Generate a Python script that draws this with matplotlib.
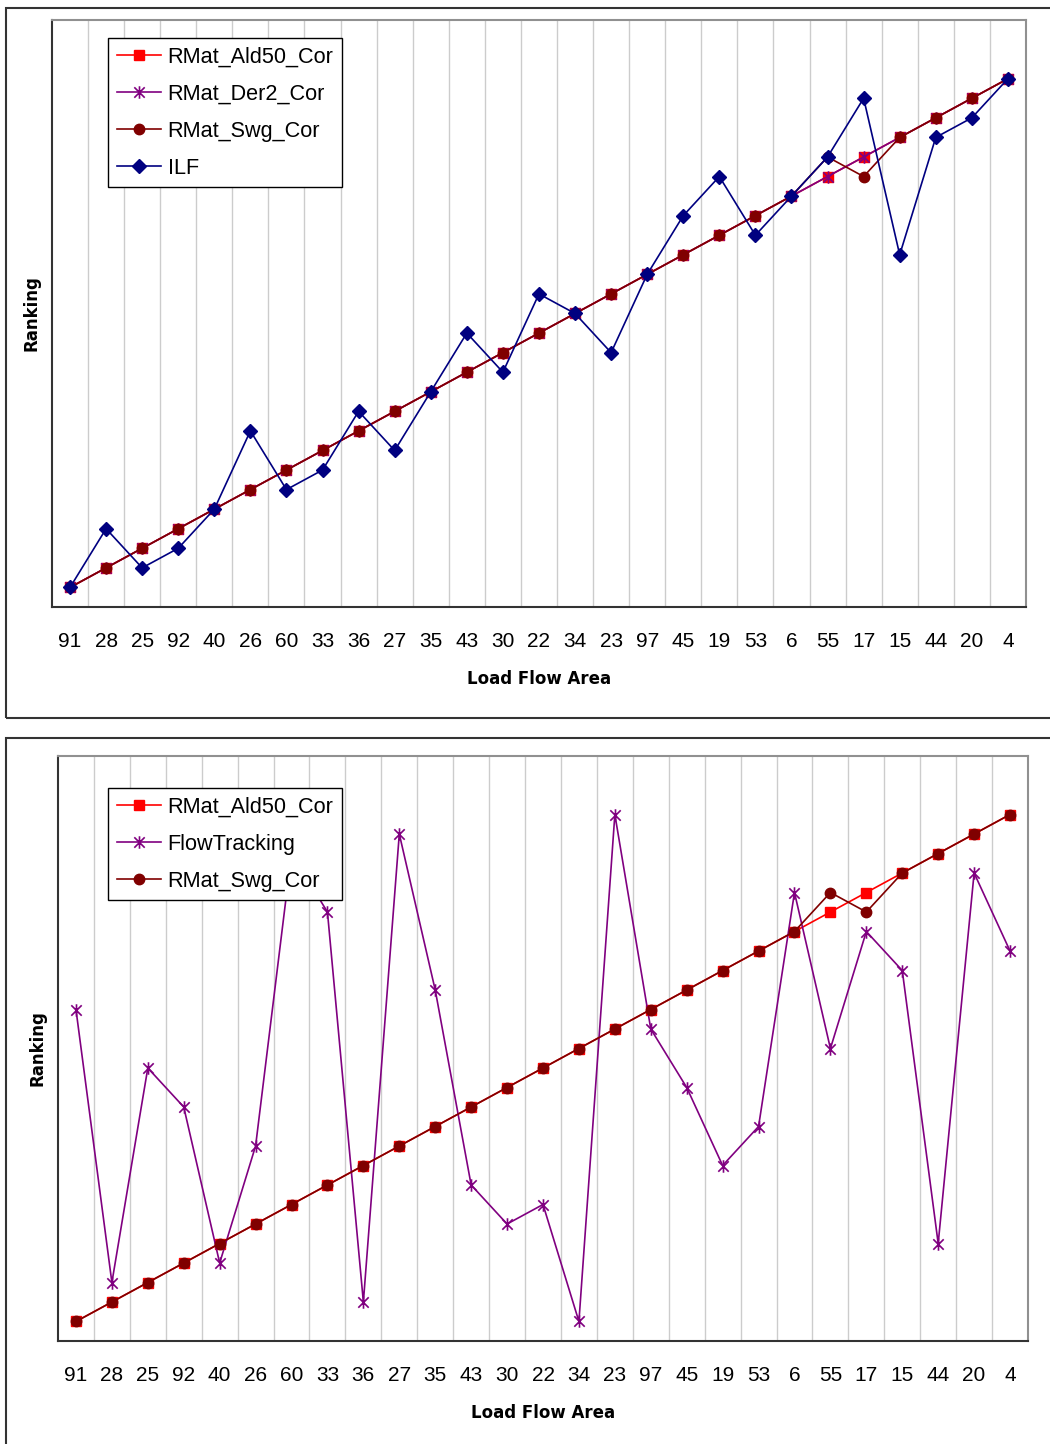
import matplotlib
matplotlib.use('Agg')
import matplotlib.pyplot as plt
from matplotlib.path import Path
from matplotlib.patches import Rectangle

plt.rcParams['font.family'] = ['Liberation Sans', 'DejaVu Sans']

areas = ['91', '28', '25', '92', '40', '26', '60', '33', '36', '27', '35', '43', '30', '22',
         '34', '23', '97', '45', '19', '53', '6', '55', '17', '15', '44', '20', '4']

# top chart
ald50_top = [1, 2, 3, 4, 5, 6, 7, 8, 9, 10, 11, 12, 13, 14, 15, 16, 17, 18, 19, 20, 21, 22, 23, 24, 25, 26, 27]
der2_top = [1, 2, 3, 4, 5, 6, 7, 8, 9, 10, 11, 12, 13, 14, 15, 16, 17, 18, 19, 20, 21, 22, 23, 24, 25, 26, 27]
swg_top = [1, 2, 3, 4, 5, 6, 7, 8, 9, 10, 11, 12, 13, 14, 15, 16, 17, 18, 19, 20, 21, 23, 22, 24, 25, 26, 27]
ilf = [1, 4, 2, 3, 5, 9, 6, 7, 10, 8, 11, 14, 12, 16, 15, 13, 17, 20, 22, 19, 21, 23, 26, 18, 24, 25, 27]

# bottom chart
ald50_bot = [1, 2, 3, 4, 5, 6, 7, 8, 9, 10, 11, 12, 13, 14, 15, 16, 17, 18, 19, 20, 21, 22, 23, 24, 25, 26, 27]
flow = [17, 3, 14, 12, 4, 10, 25, 22, 2, 26, 18, 8, 6, 7, 1, 27, 16, 13, 9, 11, 23, 15, 21, 19, 5, 24, 20]
swg_bot = [1, 2, 3, 4, 5, 6, 7, 8, 9, 10, 11, 12, 13, 14, 15, 16, 17, 18, 19, 20, 21, 23, 22, 24, 25, 26, 27]

# excel style star: an x with a vertical bar
star = Path([(-1, -1), (1, 1), (-1, 1), (1, -1), (0, -1.2), (0, 1.2)],
            [Path.MOVETO, Path.LINETO, Path.MOVETO, Path.LINETO, Path.MOVETO, Path.LINETO])

RED = '#ff0000'
PURPLE = '#800080'
DRED = '#800000'
NAVY = '#000080'

fig = plt.figure(figsize=(10.5, 14.44), dpi=100)

# outer frames around each chart
fig.add_artist(Rectangle((0.0057, 0.50277), 1.0, 0.49169, transform=fig.transFigure,
                         fill=False, edgecolor='#333333', linewidth=1.5))
fig.add_artist(Rectangle((0.0057, -0.01), 1.0, 0.49892, transform=fig.transFigure,
                         fill=False, edgecolor='#333333', linewidth=1.5))

ax1 = fig.add_axes([0.0495, 0.57964, 0.9276, 0.40651])
ax2 = fig.add_axes([0.05524, 0.07133, 0.92381, 0.40512])

x = list(range(1, len(areas) + 1))
label_font = dict(family='DejaVu Sans', fontsize=12, fontweight='bold')


def style(ax):
    ax.set_xlim(0.5, len(areas) + 0.5)
    ax.set_ylim(0, 30)
    ax.set_xticks(x)
    ax.set_xticklabels(areas, fontsize=15)
    ax.set_xticks([i + 0.5 for i in range(1, len(areas))], minor=True)
    ax.tick_params(axis='x', which='both', length=0, pad=18)
    ax.set_yticks([])
    ax.grid(True, which='minor', axis='x', color='#cccccc', linewidth=1.0)
    ax.set_axisbelow(True)
    for side in ['left', 'bottom']:
        ax.spines[side].set_color('#333333')
        ax.spines[side].set_linewidth(1.5)
    for side in ['top', 'right']:
        ax.spines[side].set_color('#909090')
        ax.spines[side].set_linewidth(1.5)
    ax.set_xlabel('Load Flow Area', labelpad=14, **label_font)
    ax.set_ylabel('Ranking', labelpad=8, **label_font)


def legend(ax, anchor):
    leg = ax.legend(loc='upper left', bbox_to_anchor=anchor, borderaxespad=0,
                    fontsize=15.6, fancybox=False, framealpha=1, edgecolor='black',
                    handlelength=2.05, handletextpad=0.3, labelspacing=0.74, borderpad=0.4)
    leg.get_frame().set_linewidth(1.0)


lw = 1.2
ax1.plot(x, ald50_top, color=RED, lw=lw, marker='s', ms=7.5, mec=RED, mfc=RED, label='RMat_Ald50_Cor')
ax1.plot(x, der2_top, color=PURPLE, lw=lw, marker=star, ms=9, mec=PURPLE, mfc='none', mew=1.2, label='RMat_Der2_Cor')
ax1.plot(x, swg_top, color=DRED, lw=lw, marker='o', ms=7.5, mec=DRED, mfc=DRED, label='RMat_Swg_Cor')
ax1.plot(x, ilf, color=NAVY, lw=lw, marker='D', ms=7, mec=NAVY, mfc=NAVY, label='ILF')
style(ax1)
legend(ax1, (0.0575, 0.9693))

ax2.plot(x, ald50_bot, color=RED, lw=lw, marker='s', ms=7.5, mec=RED, mfc=RED, label='RMat_Ald50_Cor')
ax2.plot(x, flow, color=PURPLE, lw=lw, marker=star, ms=9, mec=PURPLE, mfc='none', mew=1.2, label='FlowTracking')
ax2.plot(x, swg_bot, color=DRED, lw=lw, marker='o', ms=7.5, mec=DRED, mfc=DRED, label='RMat_Swg_Cor')
style(ax2)
legend(ax2, (0.0515, 0.9453))

fig.savefig('out.png', dpi=100)
